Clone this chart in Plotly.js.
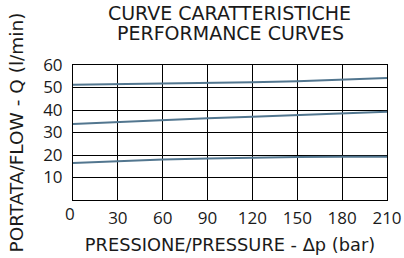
<!DOCTYPE html>
<html><head><meta charset="utf-8">
<script src="https://cdn.plot.ly/plotly-3.0.1.min.js"></script>
<style>html,body{margin:0;padding:0;background:#fff}#c{width:404px;height:258px}</style>
</head><body><div id="c"></div>
<script>
const pressure = [0, 30, 60, 90, 120, 150, 180, 210];
const flowHigh = [51.2, 51.4, 51.6, 51.9, 52.3, 52.8, 53.4, 54.2];
const flowMid  = [33.8, 34.7, 35.5, 36.3, 37.0, 37.7, 38.5, 39.2];
const flowLow  = [16.4, 17.3, 18.0, 18.5, 18.9, 19.1, 19.2, 19.2];
const xTickVals = [30, 60, 90, 120, 150, 180, 210];
const yTickVals = [10, 20, 30, 40, 50, 60];
const originLabel = "0";
const titleLine1 = "CURVE CARATTERISTICHE";
const titleLine2 = "PERFORMANCE CURVES";

const tickFont = "Open Sans, Noto Sans, sans-serif";
const titleFont = "DejaVu Sans, sans-serif";
const ink = '#1a1a1a';
const lineStyle = {color: '#52768f', width: 2};
const traces = [flowHigh, flowMid, flowLow].map(y => ({
  x: pressure, y: y, type: 'scatter', mode: 'lines', line: lineStyle, hoverinfo: 'none', showlegend: false
}));

const W = 404, H = 258, M = {l: 73, r: 17, t: 65, b: 58};
const plotW = W - M.l - M.r, plotH = H - M.t - M.b;

const layout = {
  width: W, height: H,
  margin: M,
  paper_bgcolor: '#fff', plot_bgcolor: '#fff',
  font: {family: tickFont, color: ink, size: 17},
  title: {text: titleLine1, font: {family: titleFont, size: 19, color: ink},
          x: 229.5 / W, xanchor: 'center', yref: 'container', y: 1 - 13.5 / H, yanchor: 'middle', automargin: false},
  xaxis: {range: [0, 210], tickvals: xTickVals, ticktext: xTickVals.map(String),
          showgrid: true, gridcolor: '#000', gridwidth: 1, zeroline: false,
          showline: true, linecolor: '#000', linewidth: 1, mirror: true, ticks: '',
          tickfont: {size: 17}, ticklabelstandoff: 3,
          title: {text: 'PRESSIONE/PRESSURE - Δp (bar)', font: {family: titleFont, size: 17.8}, standoff: 10}},
  yaxis: {range: [0, 60], tickvals: yTickVals, ticktext: yTickVals.map(String),
          showgrid: true, gridcolor: '#000', gridwidth: 1, zeroline: false,
          showline: true, linecolor: '#000', linewidth: 1, mirror: true, ticks: '',
          tickfont: {size: 17}, ticklabelstandoff: 6,
          title: {text: 'PORTATA/FLOW - Q (l/min)', font: {family: titleFont, size: 18.5}, standoff: 14}},
  annotations: [
    {x: 0, y: 0, xref: 'x', yref: 'y', text: originLabel, showarrow: false,
     xanchor: 'center', yanchor: 'top', xshift: -3, yshift: 0, font: {size: 17, family: tickFont, color: ink}},
    {x: (230 - M.l) / plotW, y: (H - M.b - 33) / plotH, xref: 'paper', yref: 'paper', text: titleLine2, showarrow: false,
     xanchor: 'center', yanchor: 'middle', font: {size: 19, family: titleFont, color: ink}}
  ]
};
Plotly.newPlot('c', traces, layout, {staticPlot: true, displayModeBar: false});
</script></body></html>
